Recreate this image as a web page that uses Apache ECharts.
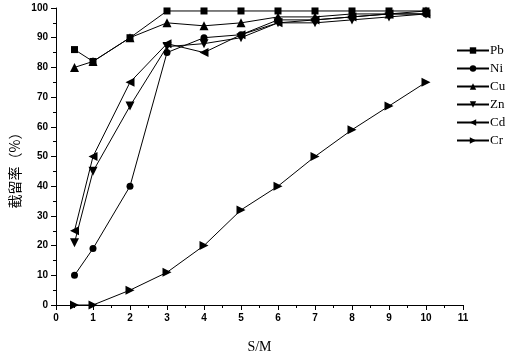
<!DOCTYPE html>
<html><head><meta charset="utf-8">
<script src="https://cdn.jsdelivr.net/npm/echarts@6/dist/echarts.min.js"></script>
<style>html,body{margin:0;padding:0;background:#fff}#c{width:516px;height:359px}</style>
</head><body><div id="c"></div>
<script>
var xValues = [0.5, 1, 2, 3, 4, 5, 6, 7, 8, 9, 10];
var seriesNames = ['Pb', 'Ni', 'Cu', 'Zn', 'Cd', 'Cr'];
var Pb = [86, 82, 90, 99, 99, 99, 99, 99, 99, 99, 99];
var Ni = [10, 19, 40, 85, 90, 91, 96, 96, 97, 98, 98];
var Cu = [80, 82, 90, 95, 94, 95, 97, 97, 98, 98, 99];
var Zn = [21, 45, 67, 87, 88, 90, 95, 95, 96, 97, 98];
var Cd = [25, 50, 75, 88, 85, 91, 95, 96, 97, 98, 98];
var Cr = [0, 0, 5, 11, 20, 32, 40, 50, 59, 67, 75];
var xTicks = [0,1,2,3,4,5,6,7,8,9,10,11];
var yTicks = [0,10,20,30,40,50,60,70,80,90,100];

var allData = [Pb, Ni, Cu, Zn, Cd, Cr];
var symbols = [
  'rect',
  'circle',
  'path://M5,0 L10,9 L0,9 Z',
  'path://M0,0 L10,0 L5,9 Z',
  'path://M0,5 L9,0 L9,10 Z',
  'path://M0,0 L9,5 L0,10 Z'
];
var sizes = [7, 7, 9, 9, 9, 9];

var chart = echarts.init(document.getElementById('c'));
var series = seriesNames.map(function(n, i){
  return {
    name: n, type: 'line',
    data: xValues.map(function(x, j){ return [x, allData[i][j]]; }),
    symbol: symbols[i], symbolSize: sizes[i],
    showAllSymbol: true,
    lineStyle: {color: '#000', width: 1},
    itemStyle: {color: '#000'},
    animation: false
  };
});
chart.setOption({
  animation: false,
  backgroundColor: '#fff',
  grid: {left: 56, right: 53, top: 8, bottom: 54},
  legend: {
    orient: 'vertical', left: 451, top: 39,
    itemWidth: 32, itemHeight: 8, itemGap: 5,
    textStyle: {fontFamily: 'Liberation Serif', fontSize: 13, color: '#000', padding: [0,0,0,-4]},
    data: seriesNames
  },
  xAxis: {
    type: 'value', min: 0, max: 11, interval: 1,
    name: 'S/M', nameLocation: 'middle', nameGap: 35,
    nameTextStyle: {fontFamily: 'Liberation Serif', fontSize: 14, color: '#000'},
    axisLine: {lineStyle: {color: '#000', width: 1}},
    axisTick: {length: 5, lineStyle: {color: '#000'}},
    minorTick: {show: true, splitNumber: 2, length: 3, lineStyle: {color: '#000'}},
    splitLine: {show: false},
    axisLabel: {fontFamily: 'Liberation Sans', fontWeight: 'bold', fontSize: 10, color: '#000', margin: 8,
      formatter: function(v){ return xTicks.indexOf(v) >= 0 ? String(v) : ''; }}
  },
  yAxis: {
    type: 'value', min: 0, max: 100, interval: 10,
    axisLine: {show: true, lineStyle: {color: '#000', width: 1}},
    axisTick: {show: true, length: 5, lineStyle: {color: '#000'}},
    minorTick: {show: true, splitNumber: 2, length: 3, lineStyle: {color: '#000'}},
    splitLine: {show: false},
    axisLabel: {fontFamily: 'Liberation Sans', fontWeight: 'bold', fontSize: 10, color: '#000', margin: 8,
      formatter: function(v){ return yTicks.indexOf(v) >= 0 ? String(v) : ''; }}
  },
  graphic: [{
    type: 'text', x: 15, y: 167, rotation: Math.PI/2,
    style: {text: '截留率（%）', fontFamily: 'Noto Sans CJK SC', fontSize: 14, fill: '#000',
      textAlign: 'center', textVerticalAlign: 'middle'}
  }],
  series: series
});
</script></body></html>
